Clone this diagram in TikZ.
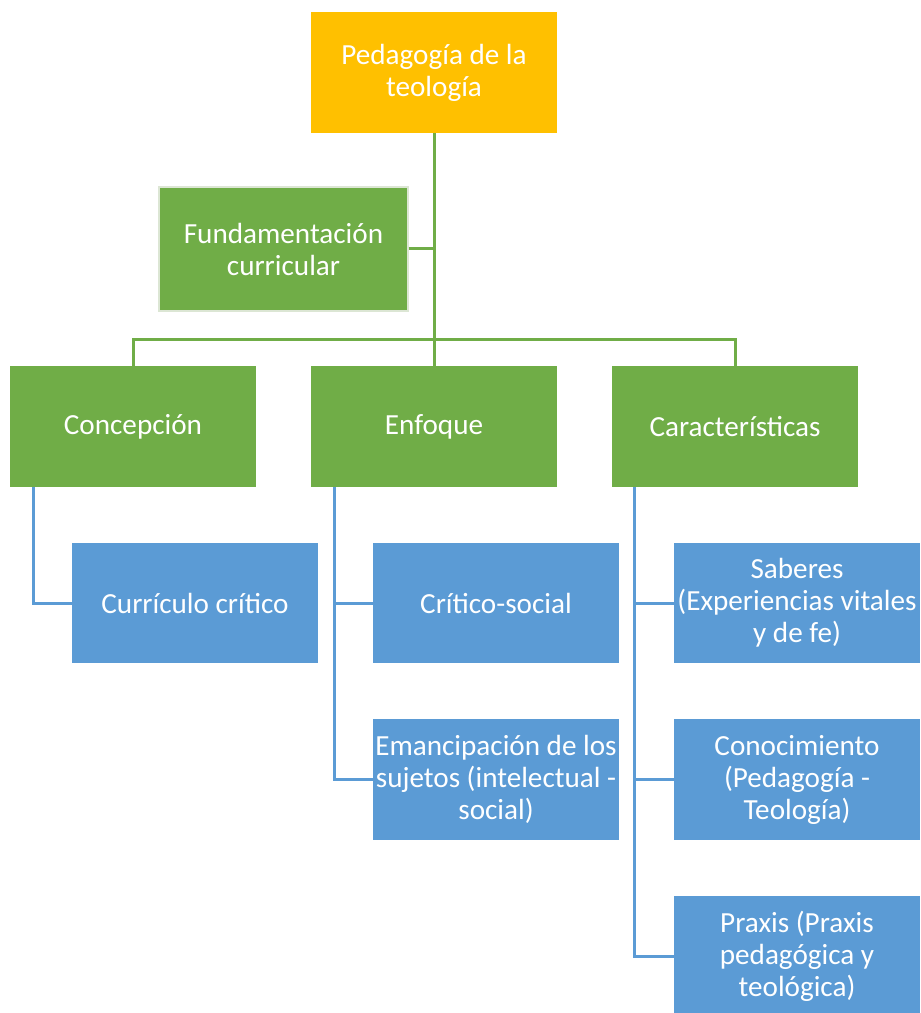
\documentclass[tikz,border=0pt]{standalone}
\usepackage{fontspec}
\setmainfont{Carlito}
\definecolor{orangebox}{HTML}{FFC000}
\definecolor{greenbox}{HTML}{70AD47}
\definecolor{bluebox}{HTML}{5B9BD5}
\definecolor{paleedge}{HTML}{DCE6D4}

\begin{document}
\begin{tikzpicture}[x=0.02cm,y=-0.02cm]
    \tikzstyle{box}=[rectangle,minimum width=4.92cm,minimum height=2.42cm,inner sep=0pt,
        align=center,text=white,font=\fontsize{16.6}{18.2}\selectfont]
    \tikzstyle{root}=[box,fill=orangebox]
    \tikzstyle{branch}=[box,fill=greenbox]
    \tikzstyle{leaf}=[box,fill=bluebox]
    \tikzstyle{gline}=[draw=greenbox,line width=0.06cm]
    \tikzstyle{bline}=[draw=bluebox,line width=0.06cm]

    \useasboundingbox (0,0) rectangle (920,1013);
    \clip (0,0) rectangle (920,1013);

    \node[root] (P) at (434,72.5) {Pedagogía de la\\teología};
    \node[branch,draw=paleedge,line width=0.03cm,minimum width=4.98cm,minimum height=2.48cm]
        (F) at (283.5,249) {Fundamentación\\curricular};

    \foreach \name/\x/\txt in {C/133/Concepción, E/434/Enfoque, K/735/Características}
        \node[branch] (\name) at (\x,426.5) {\txt};

    \foreach \name/\x/\y/\txt in {C-1/195/603/{Currículo crítico},
                                  E-1/496/603/{Crítico-social},
                                  E-2/496/779.5/{Emancipación de los\\sujetos (intelectual -\\social)},
                                  K-1/797/603/{Saberes\\(Experiencias vitales\\y de fe)},
                                  K-2/797/779.5/{Conocimiento\\(Pedagogía -\\Teología)},
                                  K-3/797/956/{Praxis (Praxis\\pedagógica y\\teológica)}}
        \node[leaf] (\name) at (\x,\y) {\txt};

    % green tree
    \coordinate (bar) at (434,339);
    \draw[gline] (P.south) -- (E.north);
    \draw[gline] (F.east) -- (F.east -| P.south);
    \draw[gline] (C.north) |- (bar) -| (K.north);

    % blue branches
    \draw[bline] ([xshift=0.48cm]C.south west) |- (C-1.west);
    \foreach \to in {E-1, E-2}
        \draw[bline] ([xshift=0.48cm]E.south west) |- (\to.west);
    \foreach \to in {K-1, K-2, K-3}
        \draw[bline] ([xshift=0.46cm]K.south west) |- (\to.west);
\end{tikzpicture}
\end{document}
